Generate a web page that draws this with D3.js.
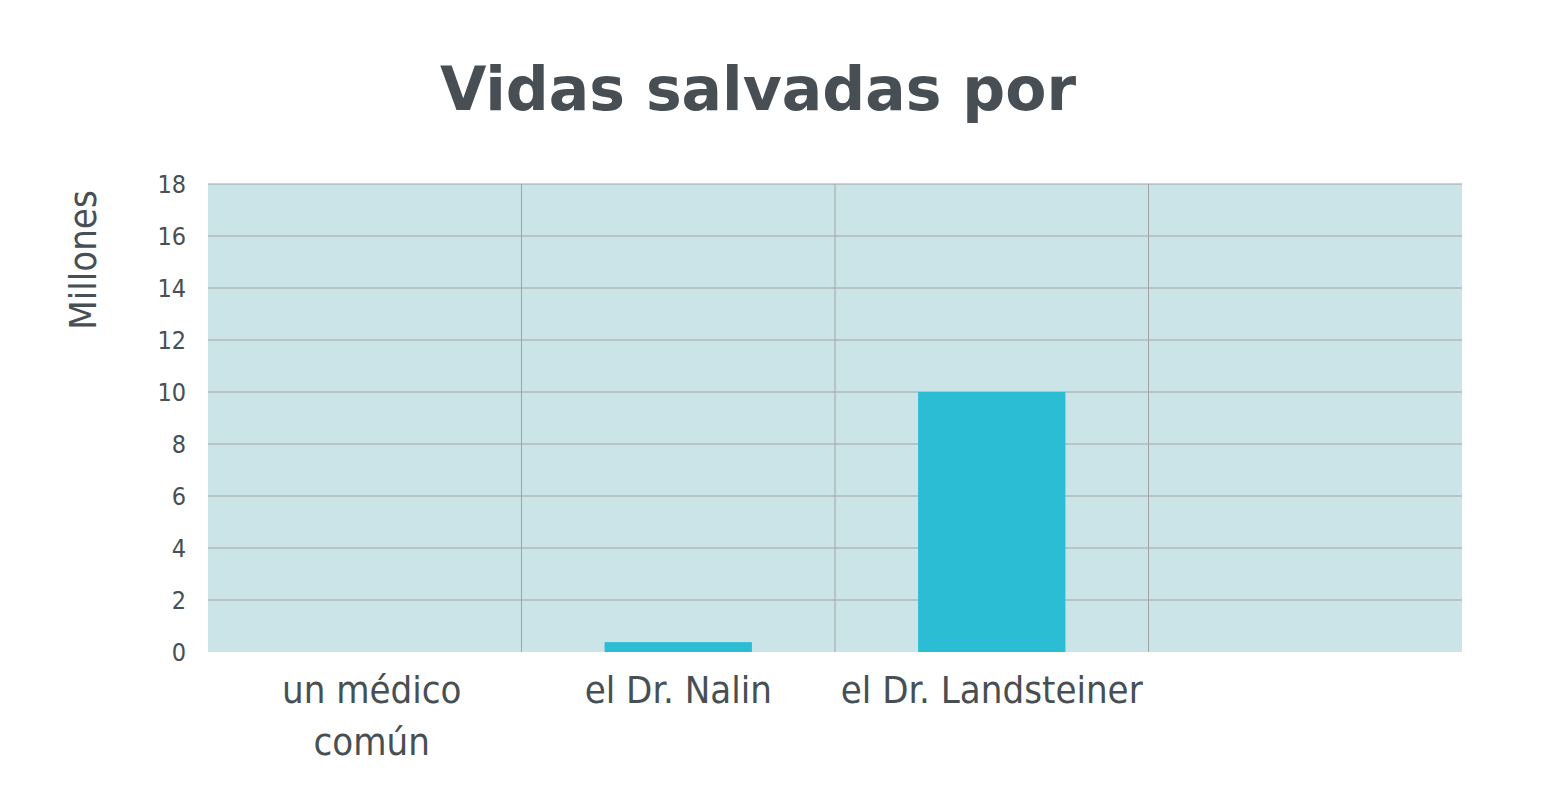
<!DOCTYPE html>
<html><head><meta charset="utf-8">
<script src="https://cdn.jsdelivr.net/npm/d3@7"></script>
<style>body{margin:0;background:#fff}</style>
</head><body><svg id="chart" width="1560" height="807"></svg>
<script>
const categories = ["un médico común", "el Dr. Nalin", "el Dr. Landsteiner", ""];
const values = [0, 0.38, 10, 0];
const ticks = [0, 2, 4, 6, 8, 10, 12, 14, 16, 18];

const svg = d3.select("#chart");
const plotL = 208, plotR = 1462, plotT = 184, plotB = 652;
const textCol = "#474f54";

const x = d3.scaleBand().domain(d3.range(categories.length)).range([plotL, plotR]);
const y = d3.scaleLinear().domain([0, 18]).range([plotB, plotT]);

svg.append("rect").attr("x", plotL).attr("y", plotT)
  .attr("width", plotR - plotL).attr("height", plotB - plotT).attr("fill", "#cbe4e8");

// horizontal grid
svg.append("g").selectAll("line").data(ticks.slice(1)).enter().append("line")
  .attr("x1", plotL).attr("x2", plotR).attr("y1", d => y(d)).attr("y2", d => y(d))
  .attr("stroke", "#a3a3a3").attr("stroke-width", 1);
// vertical grid at band boundaries
svg.append("g").selectAll("line").data(d3.range(1, categories.length)).enter().append("line")
  .attr("x1", d => x(d)).attr("x2", d => x(d)).attr("y1", plotT).attr("y2", plotB)
  .attr("stroke", "#a3a3a3").attr("stroke-width", 1);

// bars
const bw = x.bandwidth() * 0.47;
svg.append("g").selectAll("rect").data(values).enter().append("rect")
  .attr("x", (d, i) => x(i) + x.bandwidth() / 2 - bw / 2)
  .attr("y", d => y(d)).attr("width", bw).attr("height", d => plotB - y(d))
  .attr("fill", "#2bbdd3");

// y tick labels
svg.append("g").selectAll("text").data(ticks).enter().append("text")
  .attr("x", 186).attr("y", d => y(d) + 9).attr("text-anchor", "end")
  .attr("font-family", "DejaVu Sans Condensed, DejaVu Sans").attr("font-size", 25)
  .attr("fill", textCol).text(d => d);

// category labels
const lab = svg.append("g").selectAll("text").data(categories).enter().append("text")
  .attr("text-anchor", "middle")
  .attr("font-family", "DejaVu Sans Condensed, DejaVu Sans").attr("font-size", 38)
  .attr("fill", textCol);
lab.each(function(d, i) {
  const t = d3.select(this);
  const lines = d === "un médico común" ? ["un médico", "común"] : [d];
  lines.forEach((l, j) => t.append("tspan")
    .attr("x", x(i) + x.bandwidth() / 2 + (i === 0 ? 7 : 0))
    .attr("y", 703 + j * 52).text(l));
});

// y axis title
svg.append("text").attr("transform", "translate(96,260) rotate(-90)")
  .attr("text-anchor", "middle")
  .attr("font-family", "DejaVu Sans Condensed, DejaVu Sans").attr("font-size", 38)
  .attr("fill", textCol).text("Millones");

// title
svg.append("text").attr("x", 758).attr("y", 110).attr("text-anchor", "middle")
  .attr("font-family", "DejaVu Sans").attr("font-weight", "bold").attr("font-size", 60)
  .attr("fill", textCol).text("Vidas salvadas por");
</script></body></html>
